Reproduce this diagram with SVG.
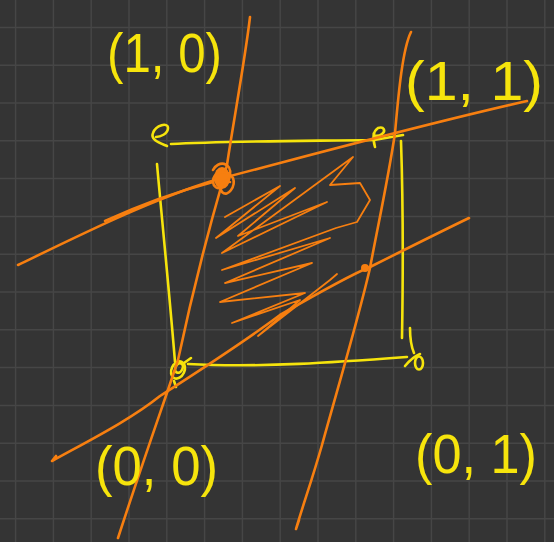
<svg xmlns="http://www.w3.org/2000/svg" width="554" height="542" viewBox="0 0 554 542">
<style>
.bg{fill:#343434}
.grid line{stroke:#464646;stroke-width:1.5}
.y{fill:none;stroke:#f6e40c;stroke-width:2.6;stroke-linecap:round;stroke-linejoin:round}
.o{fill:none;stroke:#f77f10;stroke-width:2.6;stroke-linecap:round;stroke-linejoin:round}
.ot{fill:none;stroke:#f77f10;stroke-width:1.8;stroke-linecap:round;stroke-linejoin:round}
.lbl{font-family:"Liberation Sans",Arial,sans-serif;font-size:56px;fill:#f6e40c}
</style>
<rect class="bg" x="0" y="0" width="554" height="542"/>
<g class="grid">
<line x1="15.6" y1="0" x2="15.6" y2="542"/><line x1="53.4" y1="0" x2="53.4" y2="542"/><line x1="91.2" y1="0" x2="91.2" y2="542"/><line x1="129" y1="0" x2="129" y2="542"/><line x1="166.8" y1="0" x2="166.8" y2="542"/><line x1="204.6" y1="0" x2="204.6" y2="542"/><line x1="242.4" y1="0" x2="242.4" y2="542"/><line x1="280.2" y1="0" x2="280.2" y2="542"/><line x1="318" y1="0" x2="318" y2="542"/><line x1="355.8" y1="0" x2="355.8" y2="542"/><line x1="393.6" y1="0" x2="393.6" y2="542"/><line x1="431.4" y1="0" x2="431.4" y2="542"/><line x1="469.2" y1="0" x2="469.2" y2="542"/><line x1="507" y1="0" x2="507" y2="542"/><line x1="544.8" y1="0" x2="544.8" y2="542"/>
<line x1="0" y1="27.4" x2="554" y2="27.4"/><line x1="0" y1="65.2" x2="554" y2="65.2"/><line x1="0" y1="103" x2="554" y2="103"/><line x1="0" y1="140.8" x2="554" y2="140.8"/><line x1="0" y1="178.6" x2="554" y2="178.6"/><line x1="0" y1="216.4" x2="554" y2="216.4"/><line x1="0" y1="254.2" x2="554" y2="254.2"/><line x1="0" y1="292" x2="554" y2="292"/><line x1="0" y1="329.8" x2="554" y2="329.8"/><line x1="0" y1="367.6" x2="554" y2="367.6"/><line x1="0" y1="405.4" x2="554" y2="405.4"/><line x1="0" y1="443.2" x2="554" y2="443.2"/><line x1="0" y1="481" x2="554" y2="481"/><line x1="0" y1="518.8" x2="554" y2="518.8"/>
</g>
<g id="square">
<path class="y" d="M171,144 C220,141 300,141 374,140 L403,135"/>
<path class="y" d="M157,164 C162,220 170,300 175,362"/>
<path class="y" d="M188,364 C260,368 340,362 407,357"/>
<path class="y" d="M401,141 C403,200 403,280 402,338"/>
<path class="y" d="M167,146 C160,143 150,140 153,133 C156,125 168,122 168,128 C168,134 160,137 156,137"/>
<path class="y" d="M375,147 C373,140 372,132 378,128 C384,126 386,131 382,134 C378,137 372,136 374,133"/>
<ellipse class="y" cx="178" cy="370" rx="6.5" ry="9" transform="rotate(25 178 370)"/>
<ellipse class="y" cx="179" cy="368" rx="3.5" ry="5" transform="rotate(25 179 368)"/>
<path class="y" d="M184,363 L191,358 M174,381 L176,387"/>
<path class="y" d="M410,328 C410,336 411,346 414,353 M405,366 C410,360 415,356 420,354"/>
<ellipse class="y" cx="419" cy="363" rx="4" ry="6.5"/>
</g>
<g id="connectors">
<path class="o" d="M250,17 C245,60 232,130 227,165 L223,180 C210,225 195,280 178,360 C165,400 150,440 118,538"/>
<path class="o" d="M18,265 C80,235 150,200 215,180 C300,158 420,125 527,101"/>
<path class="o" d="M105,221 C140,205 175,192 213,182"/>
<path class="o" d="M411,32 C402,50 398,100 395,133 C388,180 378,225 370,268 C358,320 340,380 322,445 C312,480 303,505 296,529 L299,520"/>
<path class="o" d="M56,456 L52,461 C90,440 130,420 160,396 C200,370 240,345 280,315 C320,292 350,275 370,267 C400,252 440,232 469,218"/>
</g>
<g id="scribble">
<polyline class="ot" points="225,217 280,186 216,238 295,188 238,236 327,202 222,253 353,157 330,185 360,183 370,200 357,222 336,228 222,270 330,238 225,283 312,263 220,302 305,293 232,323 300,300 258,336 330,280 337,274"/>
</g>
<g id="points">
<ellipse cx="222" cy="178" rx="8" ry="11" fill="#f77f10"/>
<path class="o" d="M213,170 C218,160 232,162 230,175 C228,190 214,192 213,182 C212,172 226,168 233,178 C236,186 228,198 222,192 C218,186 224,178 230,182"/>
<circle cx="365" cy="268" r="4" fill="#f77f10"/>
</g>
<g id="labels">
<text class="lbl" x="107" y="72" textLength="115" lengthAdjust="spacingAndGlyphs">(1, 0)</text>
<text class="lbl" x="405" y="100" textLength="138" lengthAdjust="spacingAndGlyphs">(1, 1)</text>
<text class="lbl" x="95" y="485" textLength="123" lengthAdjust="spacingAndGlyphs">(0, 0)</text>
<text class="lbl" x="415" y="473" textLength="122" lengthAdjust="spacingAndGlyphs">(0, 1)</text>
</g>
</svg>
